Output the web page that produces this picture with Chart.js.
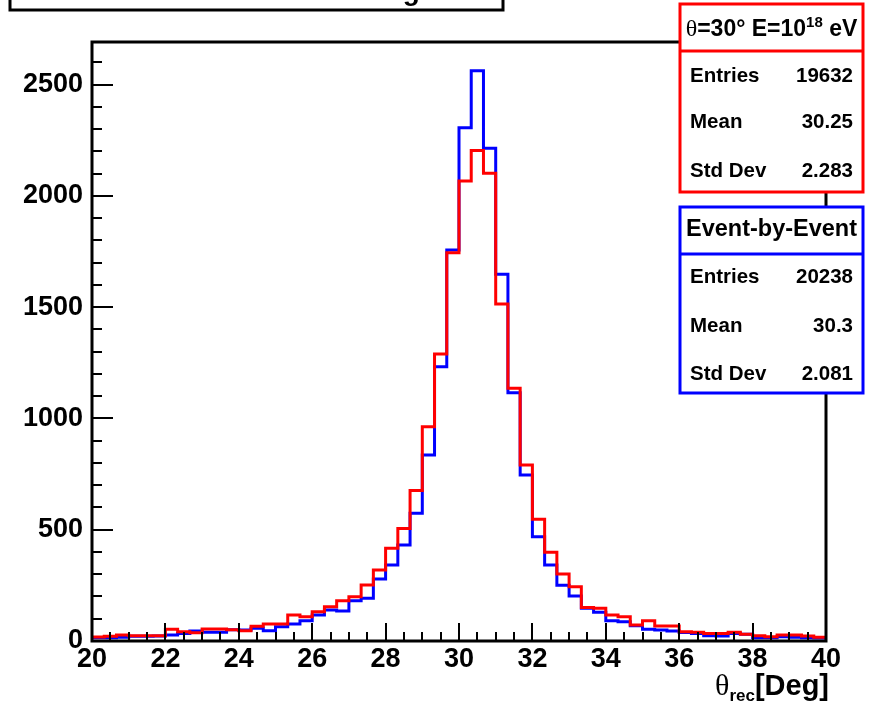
<!DOCTYPE html>
<html>
<head>
<meta charset="utf-8">
<script src="https://cdn.jsdelivr.net/npm/chart.js@4/dist/chart.umd.min.js"></script>
<style>
  html, body { margin: 0; padding: 0; background: #ffffff; }
  #wrap { width: 871px; height: 706px; position: relative; }
</style>
</head>
<body>
<div id="wrap"><canvas id="c" width="871" height="706"></canvas></div>
<script>
// Histogram range: 60 bins between 20 and 40 degrees
const xMin = 20;
const xMax = 40;
const yMax = 2692;

const xTickValues = [20, 22, 24, 26, 28, 30, 32, 34, 36, 38, 40];
const xTickLabels = ['20', '22', '24', '26', '28', '30', '32', '34', '36', '38', '40'];
const yTickValues = [0, 500, 1000, 1500, 2000, 2500];
const yTickLabels = ['0', '500', '1000', '1500', '2000', '2500'];

// Counts per bin, event-by-event reconstruction (blue)
const eventByEvent = [
  15, 15, 17, 21, 21, 22, 27, 34, 45, 39,
  39, 51, 49, 57, 46, 64, 76, 91, 117, 139,
  135, 181, 192, 279, 342, 431, 574, 836, 1233, 1757,
  2307, 2563, 2214, 1648, 1116, 746, 469, 342, 250, 202,
  147, 129, 91, 87, 69, 53, 49, 45, 38, 34,
  24, 22, 34, 30, 15, 15, 19, 17, 15, 13
];

// Counts per bin, theta = 30 deg, E = 1e18 eV (red)
const fixedEnergy = [
  18, 21, 27, 24, 24, 24, 53, 42, 37, 54,
  54, 51, 46, 66, 76, 76, 117, 109, 132, 154,
  181, 199, 252, 319, 417, 506, 676, 963, 1290, 1745,
  2067, 2204, 2102, 1515, 1136, 791, 547, 399, 301, 244,
  151, 147, 117, 109, 72, 91, 67, 67, 42, 39,
  34, 34, 39, 30, 24, 19, 27, 27, 22, 17
];

// Statistics boxes
const statLabels = ['Entries', 'Mean', 'Std Dev'];
const redStatValues = ['19632', '30.25', '2.283'];
const blueStatValues = ['20238', '30.3', '2.081'];
const blueStatTitle = 'Event-by-Event';
const plotTitle = 'Reconstructed Zenith Angle';

const SANS = '"Liberation Sans", Arial, Helvetica, sans-serif';
const SERIF = '"Liberation Serif", "Times New Roman", serif';

// Turn bin contents into an outlined step path (left/right edge of each bin)
function stepPoints(values) {
  const w = (xMax - xMin) / values.length;
  const pts = [];
  values.forEach((v, i) => {
    pts.push({ x: xMin + i * w, y: v });
    pts.push({ x: xMin + (i + 1) * w, y: v });
  });
  return pts;
}

// Draw a run of text pieces with their own fonts / vertical offsets
function drawRich(ctx, pieces, x, y, align) {
  let total = 0;
  pieces.forEach(p => { ctx.font = p.font; p.w = ctx.measureText(p.t).width; total += p.w; });
  let cx = x;
  if (align === 'center') cx = x - total / 2;
  else if (align === 'right') cx = x - total;
  ctx.textAlign = 'left';
  ctx.textBaseline = 'alphabetic';
  pieces.forEach(p => {
    ctx.font = p.font;
    ctx.fillText(p.t, cx, y + (p.dy || 0));
    cx += p.w;
  });
}

function statsBox(ctx, color, box, headerPieces, values) {
  ctx.save();
  ctx.fillStyle = '#ffffff';
  ctx.fillRect(box.l, box.t, box.r - box.l, box.b - box.t);
  ctx.strokeStyle = color;
  ctx.lineWidth = 3;
  ctx.strokeRect(box.l, box.t, box.r - box.l, box.b - box.t);
  ctx.beginPath();
  ctx.moveTo(box.l, box.div);
  ctx.lineTo(box.r, box.div);
  ctx.stroke();
  ctx.fillStyle = '#000000';
  drawRich(ctx, headerPieces, (box.l + box.r) / 2, box.headBase, 'center');
  ctx.font = 'bold 20.5px ' + SANS;
  ctx.textBaseline = 'alphabetic';
  statLabels.forEach((lab, i) => {
    ctx.textAlign = 'left';
    ctx.fillText(lab, box.l + 10, box.rows[i]);
    ctx.textAlign = 'right';
    ctx.fillText(values[i], box.r - 10, box.rows[i]);
  });
  ctx.restore();
}

const decorations = {
  id: 'decorations',
  afterDraw(chart) {
    const ctx = chart.ctx;
    const a = chart.chartArea;
    const xs = chart.scales.x;
    const ys = chart.scales.y;
    ctx.save();

    // tick marks pointing into the frame
    ctx.strokeStyle = '#000000';
    ctx.lineWidth = 2;
    ctx.beginPath();
    for (let v = xMin; v <= xMax + 1e-9; v += 0.5) {
      const px = Math.round(xs.getPixelForValue(v));
      const major = Math.abs(v / 2 - Math.round(v / 2)) < 1e-6;
      ctx.moveTo(px, a.bottom);
      ctx.lineTo(px, a.bottom - (major ? 18 : 9));
    }
    for (let v = 0; v <= yMax; v += 100) {
      const py = Math.round(ys.getPixelForValue(v));
      const major = v % 500 === 0;
      ctx.moveTo(a.left, py);
      ctx.lineTo(a.left + (major ? 21 : 10), py);
    }
    ctx.stroke();

    // frame
    ctx.lineWidth = 3;
    ctx.strokeRect(a.left, a.top, a.right - a.left, a.bottom - a.top);

    // x-axis title
    ctx.fillStyle = '#000000';
    drawRich(ctx, [
      { t: '\u03B8', font: '30px ' + SERIF },
      { t: 'rec', font: 'bold 17px ' + SANS, dy: 6 },
      { t: '[Deg]', font: 'bold 29px ' + SANS }
    ], 829, 695, 'right');

    // statistics boxes
    statsBox(ctx, '#ff0000',
      { l: 680, r: 863, t: 4, b: 192, div: 51, headBase: 36, rows: [82, 128, 177] },
      [
        { t: '\u03B8', font: '24px ' + SERIF },
        { t: '=30\u00B0 E=10', font: 'bold 23px ' + SANS },
        { t: '18', font: 'bold 15px ' + SANS, dy: -9 },
        { t: ' eV', font: 'bold 23px ' + SANS }
      ], redStatValues);
    statsBox(ctx, '#0000ff',
      { l: 680, r: 863, t: 207, b: 393, div: 254, headBase: 236, rows: [283, 332, 380] },
      [{ t: blueStatTitle, font: 'bold 23.5px ' + SANS }], blueStatValues);

    // title box, running off the top edge
    ctx.fillStyle = '#ffffff';
    ctx.fillRect(10, -40, 493, 50);
    ctx.strokeStyle = '#000000';
    ctx.lineWidth = 3;
    ctx.strokeRect(10, -40, 493, 50);
    ctx.fillStyle = '#000000';
    ctx.font = 'bold 28px ' + SANS;
    ctx.textAlign = 'center';
    ctx.textBaseline = 'alphabetic';
    ctx.fillText(plotTitle, 256.5, -0.5);

    ctx.restore();
  }
};

const tickFont = { family: SANS, size: 27, weight: 'bold' };

new Chart(document.getElementById('c'), {
  type: 'line',
  data: {
    datasets: [
      {
        label: '\u03B8=30\u00B0 E=10^18 eV',
        data: stepPoints(fixedEnergy),
        borderColor: '#ff0000',
        borderWidth: 3,
        pointRadius: 0,
        fill: false,
        tension: 0,
        borderJoinStyle: 'miter',
        borderCapStyle: 'butt'
      },
      {
        label: blueStatTitle,
        data: stepPoints(eventByEvent),
        borderColor: '#0000ff',
        borderWidth: 3,
        pointRadius: 0,
        fill: false,
        tension: 0,
        borderJoinStyle: 'miter',
        borderCapStyle: 'butt'
      }
    ]
  },
  options: {
    responsive: false,
    animation: false,
    devicePixelRatio: 1,
    layout: { padding: { left: 0, top: 42, right: 45, bottom: 0 } },
    plugins: { legend: { display: false }, tooltip: { enabled: false }, title: { display: false } },
    scales: {
      x: {
        type: 'linear',
        min: xMin,
        max: xMax,
        grid: { display: false, drawTicks: false },
        border: { display: false },
        ticks: {
          font: tickFont, color: '#000000', padding: 2, maxRotation: 0, autoSkip: false,
          callback: (v, i) => xTickLabels[i]
        },
        afterBuildTicks: s => { s.ticks = xTickValues.map(v => ({ value: v })); },
        afterFit: s => { s.height = 65; }
      },
      y: {
        type: 'linear',
        min: 0,
        max: yMax,
        grid: { display: false, drawTicks: false },
        border: { display: false },
        ticks: {
          font: tickFont, color: '#000000', padding: 9, autoSkip: false, includeBounds: false,
          callback: (v, i) => yTickLabels[i]
        },
        afterBuildTicks: s => { s.ticks = yTickValues.map(v => ({ value: v })); },
        afterFit: s => { s.width = 92; }
      }
    }
  },
  plugins: [decorations]
});
</script>
</body>
</html>
